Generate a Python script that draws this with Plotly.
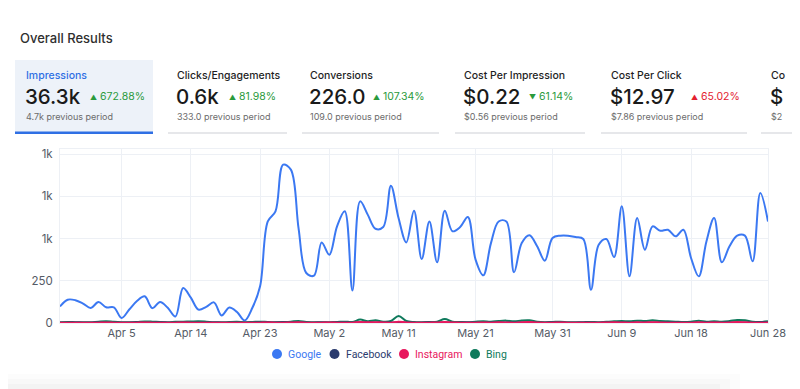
import pandas as pd
import plotly.graph_objects as go

# ---------------- data ----------------
dates = pd.date_range("2023-03-28", "2023-06-28", freq="D")

google = [98, 138, 135, 115, 89, 124, 93, 93, 30, 80,
          130, 158, 88, 124, 90, 38, 207, 150, 79, 95,
          122, 45, 92, 65, 15, 90, 217, 601, 661, 937,
          908, 560, 296, 280, 477, 404, 572, 661, 193, 720,
          640, 558, 568, 813, 620, 477, 665, 379, 601, 359,
          665, 543, 568, 627, 375, 282, 473, 601, 601, 300,
          473, 519, 454, 369, 503, 517, 517, 509, 497, 197,
          463, 497, 390, 691, 276, 621, 434, 572, 546, 552,
          513, 552, 385, 276, 483, 621, 359, 454, 517, 517,
          365, 770, 601]

bing = [5, 6, 5, 4, 5, 8, 10, 7, 5, 4,
        6, 9, 8, 6, 5, 7, 8, 9, 10, 8,
        5, 4, 6, 7, 5, 6, 8, 6, 5, 6,
        8, 12, 6, 5, 4, 5, 6, 8, 6, 20,
        10, 16, 8, 12, 42, 12, 6, 5, 6, 8,
        24, 8, 6, 5, 8, 10, 8, 12, 14, 10,
        15, 16, 8, 5, 6, 8, 5, 4, 5, 6,
        5, 8, 10, 12, 10, 14, 12, 16, 12, 10,
        8, 6, 8, 14, 8, 10, 8, 12, 18, 16,
        8, 6, 10]

facebook = [2, 2, 3, 2, 2, 3, 2, 2, 1, 2,
            3, 2, 2, 3, 2, 1, 3, 2, 2, 2,
            3, 2, 2, 2, 1, 2, 3, 4, 3, 4,
            3, 3, 2, 2, 3, 2, 3, 3, 2, 4,
            3, 3, 2, 3, 4, 3, 2, 2, 3, 2,
            3, 2, 2, 3, 2, 2, 3, 3, 3, 2,
            3, 3, 2, 2, 3, 3, 2, 2, 3, 2,
            2, 3, 2, 3, 2, 3, 3, 3, 2, 3,
            3, 2, 2, 2, 3, 3, 2, 3, 3, 3,
            2, 4, 3]

instagram = [1, 1, 2, 1, 1, 2, 3, 2, 1, 1,
             2, 3, 2, 1, 1, 2, 3, 2, 1, 1,
             2, 1, 1, 2, 1, 1, 2, 3, 2, 2,
             3, 4, 2, 1, 2, 3, 2, 1, 2, 6,
             4, 5, 3, 2, 8, 3, 2, 1, 2, 3,
             6, 3, 2, 1, 2, 3, 2, 4, 3, 2,
             5, 6, 3, 2, 2, 3, 2, 1, 2, 2,
             2, 3, 4, 3, 2, 4, 3, 5, 3, 2,
             2, 1, 2, 5, 2, 3, 2, 3, 6, 4,
             2, 1, 3]

series_names = ["Google", "Facebook", "Instagram", "Bing"]
series_colors = ["#3b78f2", "#2b3b6e", "#e8175d", "#0f7a5c"]

tick_dates = ["2023-04-05", "2023-04-14", "2023-04-23", "2023-05-02", "2023-05-11",
              "2023-05-21", "2023-05-31", "2023-06-09", "2023-06-18", "2023-06-28"]
tick_date_labels = ["Apr 5", "Apr 14", "Apr 23", "May 2", "May 11",
                    "May 21", "May 31", "Jun 9", "Jun 18", "Jun 28"]
y_tick_vals = [0, 250, 500, 750, 1000]
y_tick_labels = ["0", "250", "1k", "1k", "1k"]

# the sixth card is cut off by the right edge in the reference: only its visible part is shown
kpi_labels = ["Impressions", "Clicks/Engagements", "Conversions",
              "Cost Per Impression", "Cost Per Click", "Co"]
kpi_values = ["36.3k", "0.6k", "226.0", "$0.22", "$12.97", "$"]
kpi_changes = ["672.88%", "81.98%", "107.34%", "61.14%", "65.02%", ""]
kpi_dirs = ["up", "up", "up", "down", "up", "up"]
kpi_good = [True, True, True, True, False, True]
kpi_prev = ["4.7k previous period", "333.0 previous period", "109.0 previous period",
            "$0.56 previous period", "$7.86 previous period", "$2"]

# ---------------- layout geometry ----------------
# the page body has an 8px margin, so the figure is drawn 8px in from the window corner
OX, OY = 8, 8
W, H = 800 - OX, 389 - OY
PL, PR, PT, PB = 60, 768, 149, 323          # plot area in window pixels
L, R, T, B = PL - OX, 800 - PR, PT - OY, 389 - PB
PW, PH = PR - PL, PB - PT
FONT = "Inter, 'Helvetica Neue', Arial, sans-serif"
LEG_FONT = "Roboto, Arial, sans-serif"


def px(x):
    return (x - PL) / PW


def py(y):
    return (PB - y) / PH


fig = go.Figure()

series_data = [google, facebook, instagram, bing]
order = [0, 3, 1, 2]
for i in order:
    fig.add_trace(go.Scatter(
        x=dates, y=series_data[i], name=series_names[i], mode="lines",
        line=dict(color=series_colors[i], width=2, shape="spline", smoothing=1.0),
        showlegend=False, hoverinfo="x+y+name"))

shapes = []
annotations = []

# title
annotations.append(dict(text="Overall Results", x=px(18), y=py(38), xref="paper", yref="paper",
                        xanchor="left", yanchor="middle", showarrow=False,
                        font=dict(family=FONT, size=13, color="#2f2f2f", weight=500)))

# KPI cards
card_x = [15, 168, 302, 455, 601, 761]
card_r = [153, 287, 439, 585, 747, 800]
text_x = [24, 175, 308, 462, 609, 769]
pct_x = [88, 227, 371, 527, 689, 830]
for i in range(6):
    if i == 0:
        shapes.append(dict(type="rect", xref="paper", yref="paper",
                           x0=px(card_x[i]), x1=px(card_r[i]), y0=py(133), y1=py(60),
                           fillcolor="#edf2f9", line=dict(width=0), layer="below"))
        shapes.append(dict(type="rect", xref="paper", yref="paper",
                           x0=px(card_x[i]), x1=px(card_r[i]), y0=py(134), y1=py(131.5),
                           fillcolor="#2f6fe4", line=dict(width=0)))
    else:
        shapes.append(dict(type="rect", xref="paper", yref="paper",
                           x0=px(card_x[i]), x1=px(card_r[i]), y0=py(134), y1=py(132),
                           fillcolor="#e6e7ea", line=dict(width=0)))
    annotations.append(dict(text=kpi_labels[i], x=px(text_x[i]), y=py(75), xref="paper", yref="paper",
                            xanchor="left", yanchor="middle", showarrow=False,
                            font=dict(family=FONT, size=10.5, weight=500,
                                      color="#2f6fe4" if i == 0 else "#1f1f1f")))
    annotations.append(dict(text=kpi_values[i], x=px(text_x[i] - 1), y=py(96.5), xref="paper", yref="paper",
                            xanchor="left", yanchor="middle", showarrow=False,
                            font=dict(family=FONT, size=20.5, color="#1a1a1a", weight=500)))
    if kpi_changes[i]:
        col = "#2a9a3c" if kpi_good[i] else "#e3202e"
        tri = "▲" if kpi_dirs[i] == "up" else "▼"
        annotations.append(dict(text=f"<span style='font-size:7px'>{tri}</span> {kpi_changes[i]}",
                                x=px(pct_x[i]), y=py(96.5), xref="paper", yref="paper",
                                xanchor="left", yanchor="middle", showarrow=False,
                                font=dict(family=FONT, size=10.5, color=col)))
    annotations.append(dict(text=kpi_prev[i], x=px(text_x[i]), y=py(116), xref="paper", yref="paper",
                            xanchor="left", yanchor="middle", showarrow=False,
                            font=dict(family=FONT, size=9, color="#6b6b6b")))

# manual legend
leg_circle_x = [277, 334.5, 404, 475]
leg_y = 354
for i in range(4):
    cx = leg_circle_x[i]
    shapes.append(dict(type="circle", xref="paper", yref="paper",
                       x0=px(cx - 5), x1=px(cx + 5), y0=py(leg_y + 5), y1=py(leg_y - 5),
                       fillcolor=series_colors[i], line=dict(width=0)))
    annotations.append(dict(text=series_names[i], x=px(cx + 9), y=py(leg_y), xref="paper", yref="paper",
                            xanchor="left", yanchor="middle", showarrow=False,
                            font=dict(family=LEG_FONT, size=10.5, color=series_colors[i])))

# bottom faint shadow
for k, (y0, c) in enumerate([(374, "#fcfcfc"), (379, "#f8f8f8"), (384, "#f3f3f3")]):
    shapes.append(dict(type="rect", xref="paper", yref="paper",
                       x0=px(OX), x1=px(740 - 10 * k), y0=py(389), y1=py(y0),
                       fillcolor=c, line=dict(width=0), layer="below"))

fig.update_layout(
    width=W, height=H,
    margin=dict(l=L, r=R, t=T, b=B),
    paper_bgcolor="white", plot_bgcolor="white",
    font=dict(family=FONT, size=11, color="#555b66"),
    showlegend=False,
    shapes=shapes, annotations=annotations,
    hovermode="x unified",
)
fig.update_xaxes(
    range=[dates[0], dates[-1]],
    tickvals=pd.to_datetime(tick_dates), ticktext=tick_date_labels,
    showgrid=True, gridcolor="#edf0f5", gridwidth=1,
    showline=True, mirror=True, linecolor="#edf0f5", linewidth=1,
    zeroline=False, ticks="", tickfont=dict(size=11, color="#555b66"),
)
fig.update_yaxes(
    range=[0, 1030],
    tickvals=y_tick_vals, ticktext=y_tick_labels,
    showgrid=True, gridcolor="#edf0f5", gridwidth=1,
    showline=True, mirror=True, linecolor="#edf0f5", linewidth=1,
    zeroline=False, ticks="", tickfont=dict(size=11.5, color="#555b66"),
    ticklabelstandoff=4,
)

fig.write_html("out.html")
